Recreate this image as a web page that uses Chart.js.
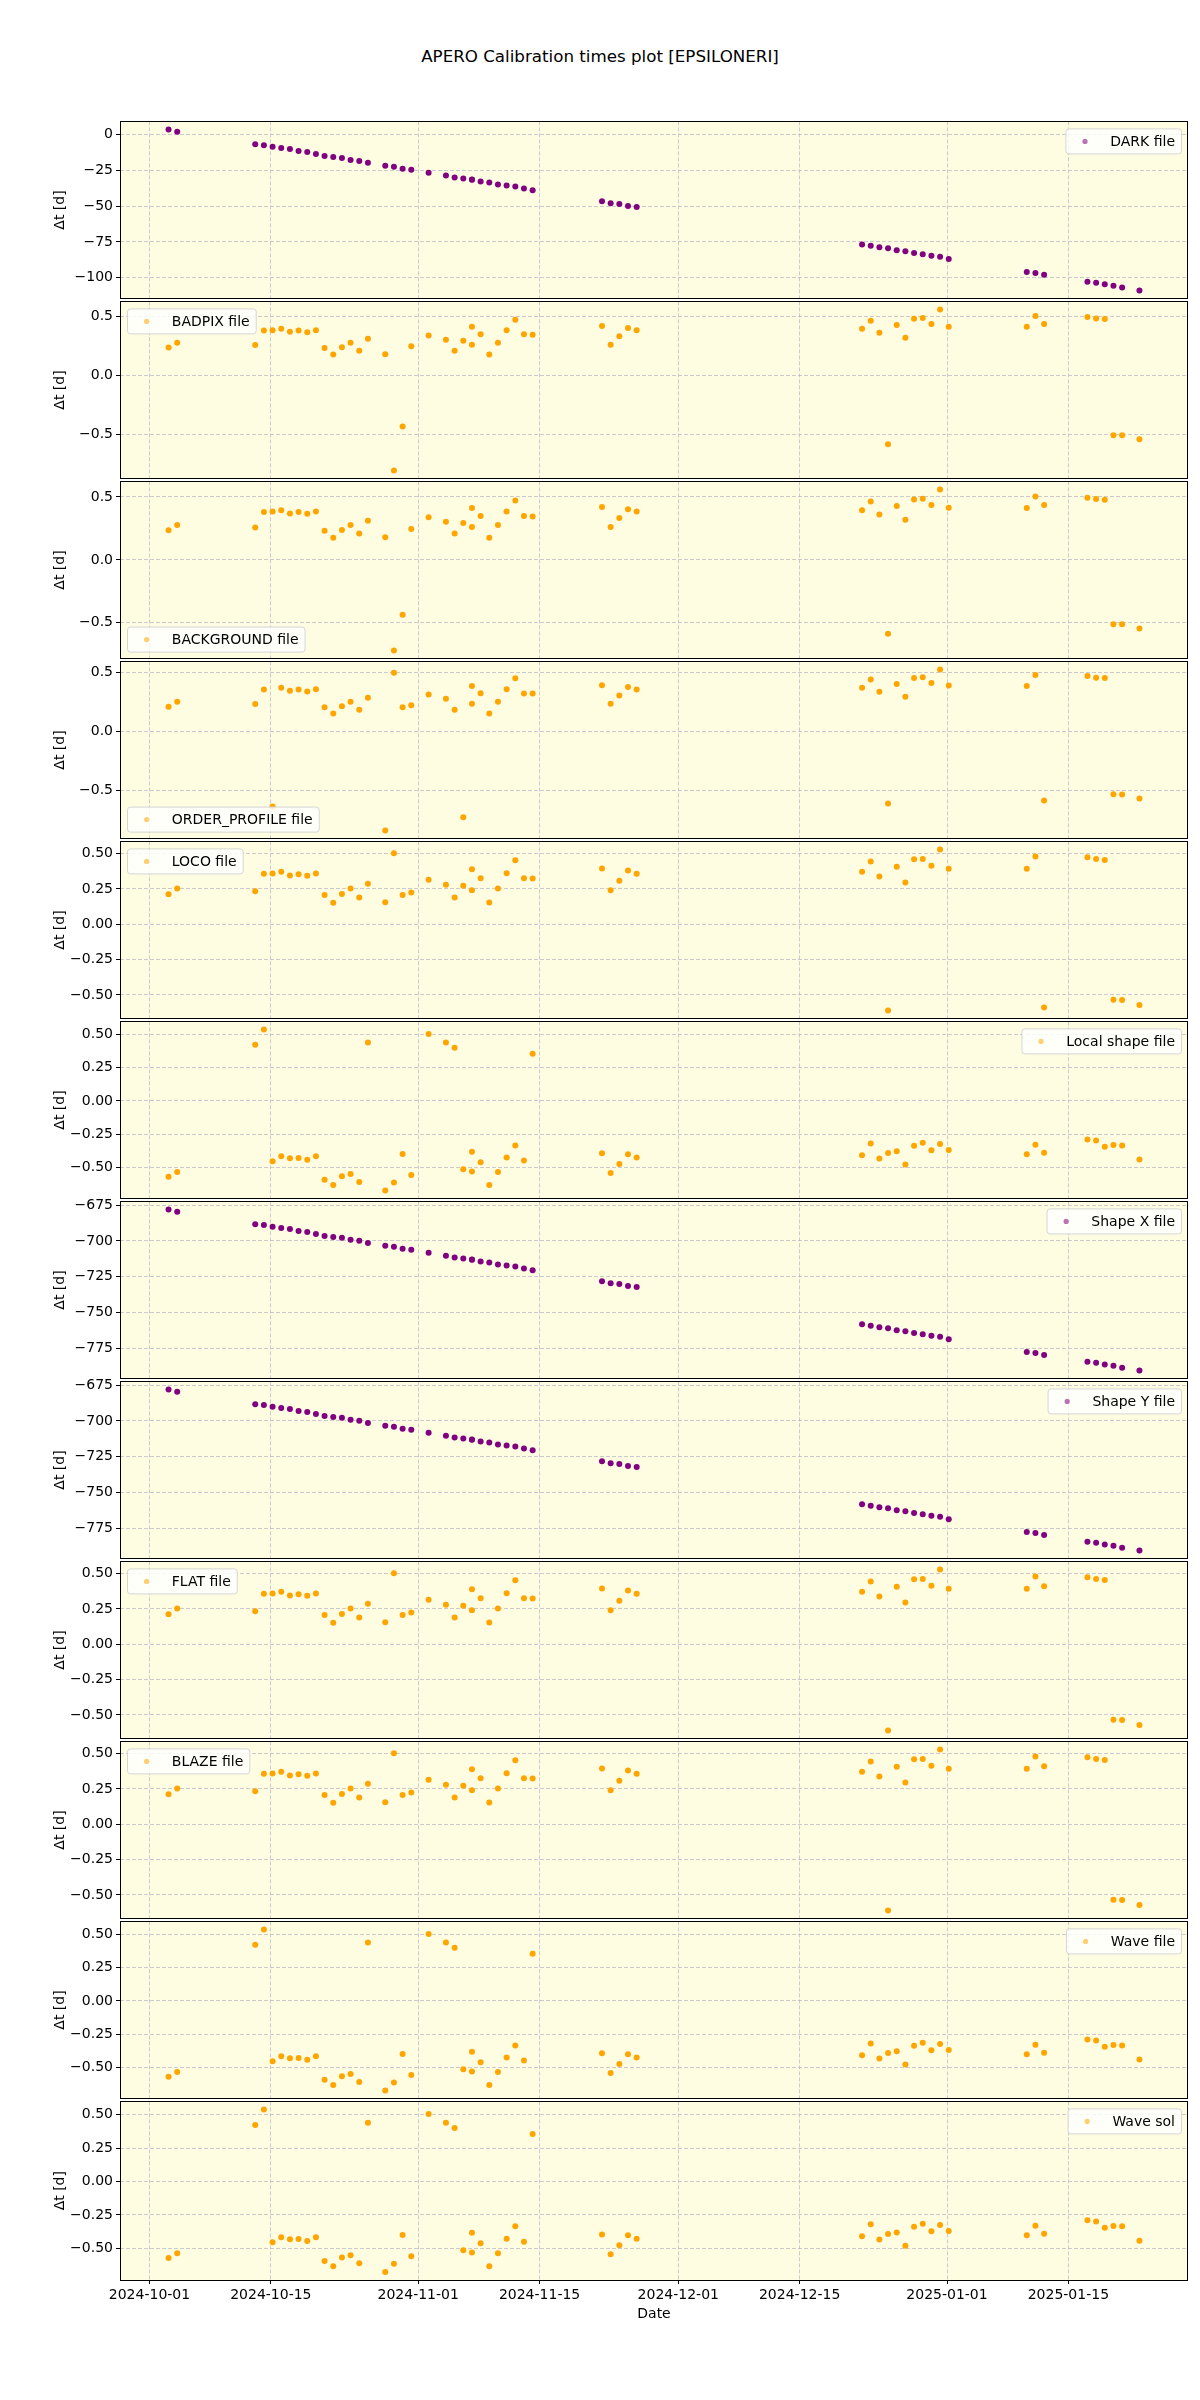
<!DOCTYPE html>
<html>
<head>
<meta charset="utf-8">
<title>APERO Calibration times plot</title>
<script src="https://cdn.jsdelivr.net/npm/chart.js@4.4.1/dist/chart.umd.min.js"></script>
<style>
  body { margin: 0; background: #fff; font-family: "DejaVu Sans", sans-serif; }
  #page { position: relative; width: 1200px; height: 2400px; overflow: hidden; }
  #title { position: absolute; top: 46px; left: 0; width: 1200px; text-align: center; font-size: 16.7px; line-height: 20px; color: #000; }
  .panel { position: absolute; left: 0; width: 1200px; }
</style>
</head>
<body>
<div id="page">
  <div id="title">APERO Calibration times plot [EPSILONERI]</div>
</div>
<script>
// observation nights (Nov 7 has two files)
const obsDates = [
  "2024-10-03", "2024-10-04", "2024-10-13", "2024-10-14", "2024-10-15", "2024-10-16", "2024-10-17",
  "2024-10-18", "2024-10-19", "2024-10-20", "2024-10-21", "2024-10-22", "2024-10-23", "2024-10-24",
  "2024-10-25", "2024-10-26", "2024-10-28", "2024-10-29", "2024-10-30", "2024-10-31", "2024-11-02",
  "2024-11-04", "2024-11-05", "2024-11-06", "2024-11-07", "2024-11-07", "2024-11-08", "2024-11-09",
  "2024-11-10", "2024-11-11", "2024-11-12", "2024-11-13", "2024-11-14", "2024-11-22", "2024-11-23",
  "2024-11-24", "2024-11-25", "2024-11-26", "2024-12-22", "2024-12-23", "2024-12-24", "2024-12-25",
  "2024-12-26", "2024-12-27", "2024-12-28", "2024-12-29", "2024-12-30", "2024-12-31", "2025-01-01",
  "2025-01-10", "2025-01-11", "2025-01-12", "2025-01-17", "2025-01-18", "2025-01-19", "2025-01-20",
  "2025-01-21", "2025-01-23"
];

const darkDt = [
  3.42, 1.83, -6.85, -7.53, -8.68, -9.59, -10.27, -11.64, -12.33, -13.70, -15.07, -15.75, -16.44,
  -17.81, -18.49, -19.86, -21.92, -22.60, -23.97, -24.66, -26.71, -28.77, -30.14, -30.82, -31.51,
  -31.60, -32.88, -33.56, -34.93, -35.62, -36.30, -37.67, -39.04, -46.58, -47.95, -48.63, -50.00,
  -50.68, -76.71, -77.63, -78.77, -79.45, -80.82, -81.51, -82.65, -83.56, -84.70, -85.39, -86.99,
  -95.89, -96.58, -97.95, -102.74, -103.42, -104.57, -105.48, -106.85, -108.90
];
const badpixDt = [
  0.235, 0.277, 0.257, 0.380, 0.383, 0.394, 0.369, 0.380, 0.366, 0.383, 0.232, 0.176, 0.237, 0.277,
  0.209, 0.310, 0.179, -0.810, -0.436, 0.246, 0.338, 0.302, 0.209, 0.293, 0.411, 0.260, 0.349, 0.176,
  0.277, 0.383, 0.472, 0.349, 0.344, 0.419, 0.260, 0.332, 0.402, 0.383, 0.394, 0.464, 0.360, -0.587,
  0.427, 0.318, 0.480, 0.486, 0.436, 0.559, 0.413, 0.411, 0.503, 0.436, 0.494, 0.483, 0.478, -0.511,
  -0.511, -0.545
];
const backgroundDt = [
  0.235, 0.277, 0.257, 0.380, 0.383, 0.394, 0.369, 0.380, 0.366, 0.383, 0.232, 0.176, 0.237, 0.277,
  0.209, 0.310, 0.179, -0.720, -0.436, 0.246, 0.338, 0.302, 0.209, 0.293, 0.411, 0.260, 0.349, 0.176,
  0.277, 0.383, 0.472, 0.349, 0.344, 0.419, 0.260, 0.332, 0.402, 0.383, 0.394, 0.464, 0.360, -0.587,
  0.427, 0.318, 0.480, 0.486, 0.436, 0.559, 0.413, 0.411, 0.503, 0.436, 0.494, 0.483, 0.478, -0.511,
  -0.511, -0.545
];
const orderProfileDt = [
  0.209, 0.251, 0.232, 0.355, -0.637, 0.369, 0.344, 0.355, 0.338, 0.358, 0.204, 0.151, 0.212, 0.251,
  0.184, 0.285, -0.841, 0.497, 0.204, 0.221, 0.313, 0.277, 0.184, -0.729, 0.385, 0.235, 0.324, 0.151,
  0.251, 0.358, 0.450, 0.321, 0.321, 0.391, 0.235, 0.304, 0.377, 0.355, 0.369, 0.439, 0.335, -0.612,
  0.402, 0.293, 0.453, 0.458, 0.411, 0.525, 0.388, 0.385, 0.478, -0.587, 0.469, 0.455, 0.453, -0.534,
  -0.536, -0.570
];
const locoDt = [
  0.212, 0.252, 0.233, 0.357, 0.359, 0.371, 0.345, 0.354, 0.343, 0.359, 0.207, 0.152, 0.214, 0.252,
  0.189, 0.287, 0.156, 0.503, 0.207, 0.224, 0.315, 0.280, 0.189, 0.273, 0.389, 0.240, 0.326, 0.154,
  0.252, 0.361, 0.452, 0.326, 0.324, 0.394, 0.240, 0.308, 0.380, 0.357, 0.371, 0.443, 0.338, -0.611,
  0.406, 0.296, 0.459, 0.462, 0.413, 0.529, 0.392, 0.392, 0.480, -0.590, 0.473, 0.462, 0.455, -0.534,
  -0.536, -0.571
];
const localShapeDt = [
  -0.571, -0.536, 0.422, 0.538, -0.454, -0.417, -0.432, -0.429, -0.444, -0.417, -0.593, -0.633,
  -0.568, -0.551, -0.610, 0.439, -0.675, -0.615, -0.400, -0.558, 0.504, 0.439, 0.400, -0.514, -0.382,
  -0.531, -0.462, -0.633, -0.536, -0.427, -0.335, -0.449, 0.355, -0.395, -0.543, -0.476, -0.402,
  -0.427, -0.409, -0.320, -0.434, -0.392, -0.380, -0.479, -0.337, -0.315, -0.372, -0.325, -0.370,
  -0.402, -0.330, -0.390, -0.290, -0.298, -0.345, -0.332, -0.335, -0.442
];
const shapeXDt = [
  -678.1, -679.7, -688.4, -689.0, -690.2, -691.1, -691.8, -693.1, -693.8, -695.2, -696.6, -697.3,
  -697.9, -699.3, -700.0, -701.4, -703.4, -704.1, -705.5, -706.2, -708.2, -710.3, -711.6, -712.3,
  -713.0, -713.1, -714.4, -715.1, -716.4, -717.1, -717.8, -719.2, -720.5, -728.1, -729.5, -730.1,
  -731.5, -732.2, -758.2, -759.1, -760.3, -761.0, -762.3, -763.0, -764.2, -765.1, -766.2, -766.9,
  -768.5, -777.4, -778.1, -779.5, -784.2, -784.9, -786.1, -787.0, -788.4, -790.4
];
const shapeYDt = [
  -678.1, -679.7, -688.4, -689.0, -690.2, -691.1, -691.8, -693.1, -693.8, -695.2, -696.6, -697.3,
  -697.9, -699.3, -700.0, -701.4, -703.4, -704.1, -705.5, -706.2, -708.2, -710.3, -711.6, -712.3,
  -713.0, -713.1, -714.4, -715.1, -716.4, -717.1, -717.8, -719.2, -720.5, -728.1, -729.5, -730.1,
  -731.5, -732.2, -758.2, -759.1, -760.3, -761.0, -762.3, -763.0, -764.2, -765.1, -766.2, -766.9,
  -768.5, -777.4, -778.1, -779.5, -784.2, -784.9, -786.1, -787.0, -788.4, -790.4
];
const flatDt = [
  0.212, 0.252, 0.233, 0.357, 0.359, 0.371, 0.345, 0.354, 0.343, 0.359, 0.207, 0.152, 0.214, 0.252,
  0.189, 0.287, 0.156, 0.503, 0.207, 0.224, 0.315, 0.280, 0.189, 0.273, 0.389, 0.240, 0.326, 0.154,
  0.252, 0.361, 0.452, 0.326, 0.324, 0.394, 0.240, 0.308, 0.380, 0.357, 0.371, 0.443, 0.338, -0.611,
  0.406, 0.296, 0.459, 0.462, 0.413, 0.529, 0.392, 0.392, 0.480, 0.410, 0.473, 0.462, 0.455, -0.534,
  -0.536, -0.571
];
const blazeDt = [
  0.212, 0.252, 0.233, 0.357, 0.359, 0.371, 0.345, 0.354, 0.343, 0.359, 0.207, 0.152, 0.214, 0.252,
  0.189, 0.287, 0.156, 0.503, 0.207, 0.224, 0.315, 0.280, 0.189, 0.273, 0.389, 0.240, 0.326, 0.154,
  0.252, 0.361, 0.452, 0.326, 0.324, 0.394, 0.240, 0.308, 0.380, 0.357, 0.371, 0.443, 0.338, -0.611,
  0.406, 0.296, 0.459, 0.462, 0.413, 0.529, 0.392, 0.392, 0.480, 0.410, 0.473, 0.462, 0.455, -0.534,
  -0.536, -0.571
];
const waveFileDt = [
  -0.571, -0.536, 0.422, 0.538, -0.454, -0.417, -0.432, -0.429, -0.444, -0.417, -0.593, -0.633,
  -0.568, -0.551, -0.610, 0.439, -0.675, -0.615, -0.400, -0.558, 0.504, 0.439, 0.400, -0.514, -0.382,
  -0.531, -0.462, -0.633, -0.536, -0.427, -0.335, -0.449, 0.355, -0.395, -0.543, -0.476, -0.402,
  -0.427, -0.409, -0.320, -0.434, -0.392, -0.380, -0.479, -0.337, -0.315, -0.372, -0.325, -0.370,
  -0.402, -0.330, -0.390, -0.290, -0.298, -0.345, -0.332, -0.335, -0.442
];
const waveSolDt = [
  -0.571, -0.536, 0.422, 0.538, -0.454, -0.417, -0.432, -0.429, -0.444, -0.417, -0.593, -0.633,
  -0.568, -0.551, -0.610, 0.439, -0.675, -0.615, -0.400, -0.558, 0.504, 0.439, 0.400, -0.514, -0.382,
  -0.531, -0.462, -0.633, -0.536, -0.427, -0.335, -0.449, 0.355, -0.395, -0.543, -0.476, -0.402,
  -0.427, -0.409, -0.320, -0.434, -0.392, -0.380, -0.479, -0.337, -0.315, -0.372, -0.325, -0.370,
  -0.402, -0.330, -0.390, -0.290, -0.298, -0.345, -0.332, -0.335, -0.442
];

const xTickDates = ["2024-10-01", "2024-10-15", "2024-11-01", "2024-11-15", "2024-12-01", "2024-12-15", "2025-01-01", "2025-01-15"];
const darkTicks = [0, -25, -50, -75, -100];
const halfTicks = [0.5, 0, -0.5];
const quarterTicks = [0.5, 0.25, 0, -0.25, -0.5];
const shapeTicks = [-675, -700, -725, -750, -775];

const PURPLE = "#800080";
const ORANGE = "#ffa500";
const GRID = "rgba(185,185,198,0.75)";

const panels = [
  { name: "DARK file", color: PURPLE, values: darkDt, ticks: darkTicks, decimals: 0, corner: "ur" },
  { name: "BADPIX file", color: ORANGE, values: badpixDt, ticks: halfTicks, decimals: 1, corner: "ul" },
  { name: "BACKGROUND file", color: ORANGE, values: backgroundDt, ticks: halfTicks, decimals: 1, corner: "ll" },
  { name: "ORDER_PROFILE file", color: ORANGE, values: orderProfileDt, ticks: halfTicks, decimals: 1, corner: "ll" },
  { name: "LOCO file", color: ORANGE, values: locoDt, ticks: quarterTicks, decimals: 2, corner: "ul" },
  { name: "Local shape file", color: ORANGE, values: localShapeDt, ticks: quarterTicks, decimals: 2, corner: "ur" },
  { name: "Shape X file", color: PURPLE, values: shapeXDt, ticks: shapeTicks, decimals: 0, corner: "ur" },
  { name: "Shape Y file", color: PURPLE, values: shapeYDt, ticks: shapeTicks, decimals: 0, corner: "ur" },
  { name: "FLAT file", color: ORANGE, values: flatDt, ticks: quarterTicks, decimals: 2, corner: "ul" },
  { name: "BLAZE file", color: ORANGE, values: blazeDt, ticks: quarterTicks, decimals: 2, corner: "ul" },
  { name: "Wave file", color: ORANGE, values: waveFileDt, ticks: quarterTicks, decimals: 2, corner: "ur" },
  { name: "Wave sol", color: ORANGE, values: waveSolDt, ticks: quarterTicks, decimals: 2, corner: "ur" }
];

const DAY0 = Date.UTC(2024, 9, 1);
function dayOf(s) {
  const [y, m, d] = s.split("-").map(Number);
  return (Date.UTC(y, m - 1, d) - DAY0) / 86400000;
}
const NIGHT = 0.2; // files are taken a few hours after midnight

// panel background, frame and a matplotlib-like legend box
const panelBox = {
  id: "panelBox",
  beforeDraw(chart) {
    const { ctx, chartArea: a } = chart;
    ctx.save();
    ctx.fillStyle = "#fefce1";
    ctx.fillRect(a.left, a.top, a.right - a.left, a.bottom - a.top);
    ctx.restore();
  },
  afterDraw(chart, args, opts) {
    const { ctx, chartArea: a } = chart;
    ctx.save();
    ctx.strokeStyle = "#000";
    ctx.lineWidth = 1;
    ctx.strokeRect(Math.round(a.left) + 0.5, Math.round(a.top) + 0.5,
      Math.round(a.right - a.left) - 1, Math.round(a.bottom - a.top));

    ctx.font = "14px 'DejaVu Sans'";
    const w = 5.6 + 28 + 11.2 + ctx.measureText(opts.name).width + 6;
    const h = 25;
    const bx = opts.corner[1] === "r" ? a.right - 7 - w : a.left + 7;
    const by = opts.corner[0] === "u" ? a.top + 7 : a.bottom - 7 - h;
    ctx.beginPath();
    ctx.roundRect(bx + 0.5, by + 0.5, w, h, 3);
    ctx.fillStyle = "rgba(255,255,255,0.8)";
    ctx.fill();
    ctx.strokeStyle = "#d6d6d6";
    ctx.stroke();
    ctx.globalAlpha = 0.55;
    ctx.fillStyle = opts.color;
    ctx.beginPath();
    ctx.arc(bx + 19.6, by + h / 2 + 0.5, 2.6, 0, Math.PI * 2);
    ctx.fill();
    ctx.globalAlpha = 1;
    ctx.fillStyle = "#000";
    ctx.textBaseline = "middle";
    ctx.fillText(opts.name, bx + 5.6 + 28 + 11.2, by + h / 2 + 1);
    ctx.restore();
  }
};

Chart.defaults.font.family = "'DejaVu Sans', sans-serif";
Chart.defaults.font.size = 14;
Chart.defaults.color = "#000";

const TOP = 120, H = 180, PAD = 10, AXIS_W = 120, RIGHT_PAD = 12, XAXIS_H = 70;
const xs = obsDates.map(d => dayOf(d) + NIGHT);
const xMin = Math.min(...xs), xMax = Math.max(...xs), xPad = (xMax - xMin) * 0.05;
const page = document.getElementById("page");

panels.forEach((p, i) => {
  const last = i === panels.length - 1;
  const box = document.createElement("div");
  box.className = "panel";
  box.style.top = (TOP + H * i - PAD) + "px";
  box.style.height = (H + PAD + (last ? XAXIS_H : PAD)) + "px";
  const canvas = document.createElement("canvas");
  box.appendChild(canvas);
  page.appendChild(box);

  const lo = Math.min(...p.values), hi = Math.max(...p.values), yPad = (hi - lo) * 0.05;

  new Chart(canvas, {
    type: "scatter",
    data: {
      datasets: [{
        label: p.name,
        data: xs.map((x, k) => ({ x: x, y: p.values[k] })),
        backgroundColor: p.color,
        borderWidth: 0,
        pointRadius: 3,
        pointHoverRadius: 3
      }]
    },
    options: {
      responsive: true,
      maintainAspectRatio: false,
      animation: false,
      layout: { padding: { top: PAD, bottom: last ? 0 : PAD, left: 0, right: RIGHT_PAD } },
      plugins: {
        legend: { display: false },
        tooltip: { enabled: false },
        panelBox: { name: p.name, color: p.color, corner: p.corner }
      },
      scales: {
        x: {
          type: "linear",
          min: xMin - xPad,
          max: xMax + xPad,
          afterBuildTicks: s => { s.ticks = xTickDates.map(d => ({ value: dayOf(d) })); },
          afterFit: s => { s.height = last ? XAXIS_H : 0; },
          ticks: { display: last, autoSkip: false, maxRotation: 0, callback: (v, k) => xTickDates[k] },
          grid: { color: GRID, drawTicks: last, tickLength: 4, tickColor: "#000" },
          border: { display: false, dash: [4, 2] },
          title: { display: last, text: "Date", padding: { top: 0, bottom: 27 } }
        },
        y: {
          min: lo - yPad,
          max: hi + yPad,
          afterBuildTicks: s => { s.ticks = p.ticks.map(v => ({ value: v })); },
          afterFit: s => { s.width = AXIS_W; },
          ticks: { autoSkip: false, callback: v => v.toFixed(p.decimals).replace("-", "\u2212") },
          grid: { color: GRID, tickLength: 4, tickColor: "#000" },
          border: { display: false, dash: [4, 2] },
          title: { display: true, text: "Δt [d]", padding: { top: 52, bottom: 0 } }
        }
      }
    },
    plugins: [panelBox]
  });
});
</script>
</body>
</html>
